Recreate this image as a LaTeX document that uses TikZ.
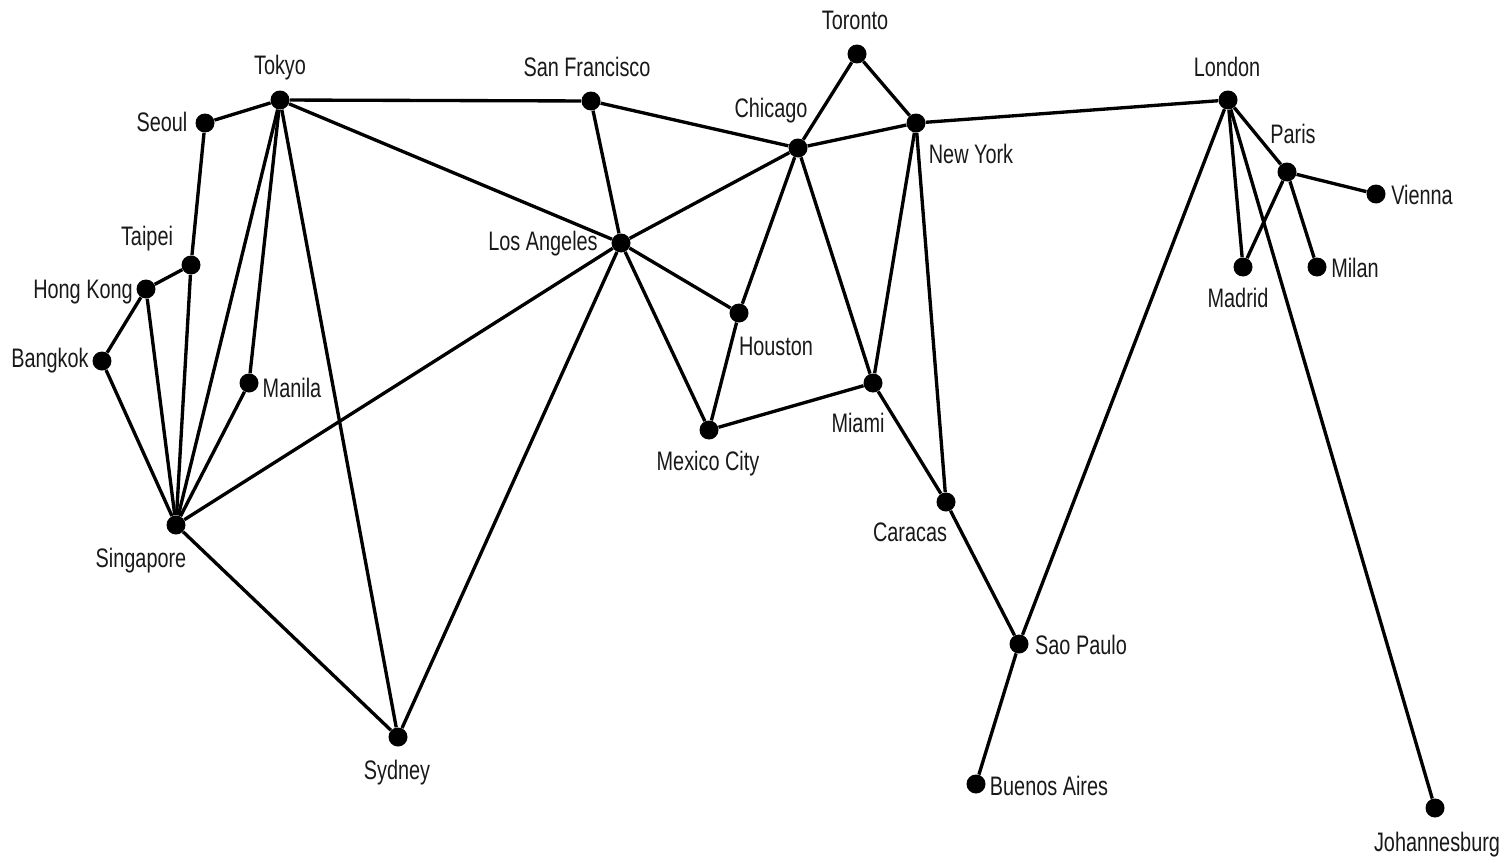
\documentclass[tikz,border=0pt]{standalone}
\usepackage{fontspec}
\setmainfont{Liberation Sans}
\usepackage{graphicx}
\usetikzlibrary{positioning}
\newcommand{\cityname}[1]{\scalebox{0.78}[1.05]{#1}}

\begin{document}
\begin{tikzpicture}[x=0.02cm,y=-0.02cm,
  city/.style={circle,fill=black,inner sep=0pt,minimum size=0.38cm},
  cname/.style={font=\fontsize{14.5}{16}\selectfont,inner sep=0pt,text=black!90},
  link/.style={line width=1.9pt}]
\useasboundingbox (0,0) rectangle (1504,862);
% cities
\node[city] (tokyo) at (280,100) {};
\node[city] (seoul) at (205,123) {};
\node[city] (taipei) at (191,265) {};
\node[city] (hongkong) at (146,289) {};
\node[city] (bangkok) at (102,361) {};
\node[city] (manila) at (249,383) {};
\node[city] (singapore) at (176,525) {};
\node[city] (sydney) at (398,737) {};
\node[city] (sanfran) at (591,101) {};
\node[city] (losangeles) at (621,243) {};
\node[city] (chicago) at (798,148) {};
\node[city] (toronto) at (857,54) {};
\node[city] (newyork) at (916,123) {};
\node[city] (houston) at (739,313) {};
\node[city] (mexico) at (709,430) {};
\node[city] (miami) at (873,383) {};
\node[city] (caracas) at (946,502) {};
\node[city] (saopaulo) at (1019,644) {};
\node[city] (buenos) at (976,784) {};
\node[city] (london) at (1228,100) {};
\node[city] (paris) at (1287,172) {};
\node[city] (vienna) at (1376,194) {};
\node[city] (madrid) at (1243,267) {};
\node[city] (milan) at (1317,267) {};
\node[city] (joburg) at (1435,808) {};
% names
\node[cname] (tokyo-n) at (280,68) {\cityname{Tokyo}};
\node[cname] (seoul-n) at (162,122) {\cityname{Seoul}};
\node[cname] (taipei-n) at (147,239) {\cityname{Taipei}};
\node[cname] (hongkong-n) at (83,292) {\cityname{Hong Kong}};
\node[cname] (bangkok-n) at (50,361) {\cityname{Bangkok}};
\node[cname] (manila-n) at (292,388) {\cityname{Manila}};
\node[cname] (singapore-n) at (141,561) {\cityname{Singapore}};
\node[cname] (sydney-n) at (397,773) {\cityname{Sydney}};
\node[cname] (sanfran-n) at (587,67) {\cityname{San Francisco}};
\node[cname] (losangeles-n) at (543,244) {\cityname{Los Angeles}};
\node[cname] (chicago-n) at (771,111) {\cityname{Chicago}};
\node[cname] (toronto-n) at (855,20) {\cityname{Toronto}};
\node[cname] (newyork-n) at (971,154) {\cityname{New York}};
\node[cname] (houston-n) at (776,346) {\cityname{Houston}};
\node[cname] (mexico-n) at (708,464) {\cityname{Mexico City}};
\node[cname] (miami-n) at (858,423) {\cityname{Miami}};
\node[cname] (caracas-n) at (910,532) {\cityname{Caracas}};
\node[cname] (saopaulo-n) at (1081,645) {\cityname{Sao Paulo}};
\node[cname] (buenos-n) at (1049,786) {\cityname{Buenos Aires}};
\node[cname] (london-n) at (1227,67) {\cityname{London}};
\node[cname] (paris-n) at (1293,134) {\cityname{Paris}};
\node[cname] (vienna-n) at (1422,195) {\cityname{Vienna}};
\node[cname] (madrid-n) at (1238,298) {\cityname{Madrid}};
\node[cname] (milan-n) at (1355,268) {\cityname{Milan}};
\node[cname] (joburg-n) at (1437,845) {\cityname{Johannesburg}};
% links
\foreach \a/\b in {seoul/tokyo, seoul/taipei, tokyo/sanfran, tokyo/losangeles,
  tokyo/singapore, tokyo/manila, tokyo/sydney, taipei/hongkong, hongkong/bangkok,
  hongkong/singapore, taipei/singapore, bangkok/singapore, manila/singapore,
  singapore/losangeles, singapore/sydney, losangeles/sydney,
  sanfran/chicago, sanfran/losangeles, losangeles/chicago, losangeles/houston,
  losangeles/mexico, chicago/toronto, toronto/newyork, chicago/newyork,
  chicago/houston, chicago/miami, houston/mexico, mexico/miami,
  newyork/miami, newyork/caracas, newyork/london, miami/caracas,
  caracas/saopaulo, saopaulo/buenos, saopaulo/london, london/paris,
  london/madrid, london/joburg, paris/vienna, paris/milan, paris/madrid}
  \draw[link] (\a) -- (\b);
\end{tikzpicture}
\end{document}
